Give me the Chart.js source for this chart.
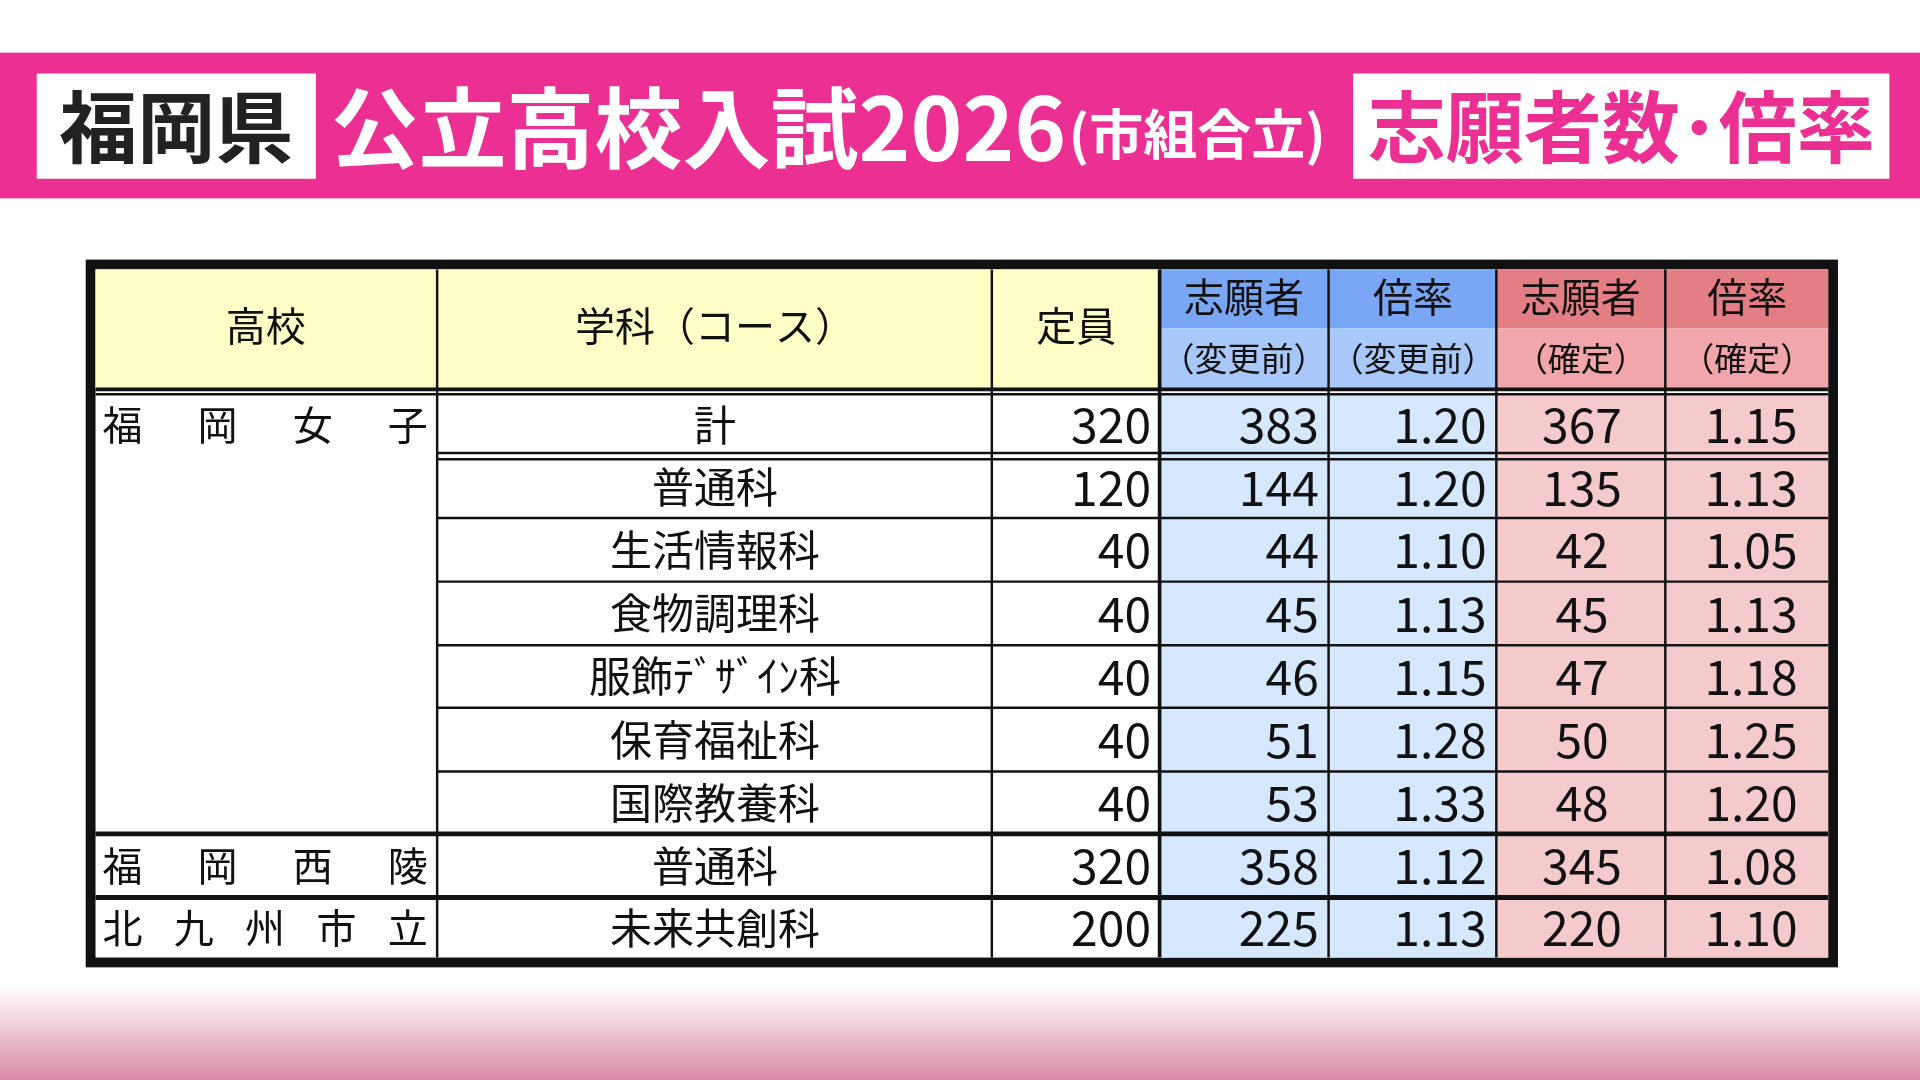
<!DOCTYPE html>
<html><head><meta charset="utf-8">
<script src="https://cdn.jsdelivr.net/npm/chart.js@4"></script>
<style>body{margin:0;background:#fff}canvas{display:block}</style>
</head><body>
<canvas id="c" width="1920" height="1080"></canvas>
<script>
const schools = ["福岡女子", "福岡西陵", "北九州市立"];
const schoolRows = [[0, 6], [7, 7], [8, 8]];
const courses = ["計", "普通科", "生活情報科", "食物調理科", "服飾ﾃﾞｻﾞｲﾝ科", "保育福祉科", "国際教養科", "普通科", "未来共創科"];
const capacity = [320, 120, 40, 40, 40, 40, 40, 320, 200];
const applicantsBefore = [383, 144, 44, 45, 46, 51, 53, 358, 225];
const ratioBefore = ["1.20", "1.20", "1.10", "1.13", "1.15", "1.28", "1.33", "1.12", "1.13"];
const applicantsFinal = [367, 135, 42, 45, 47, 50, 48, 345, 220];
const ratioFinal = ["1.15", "1.13", "1.05", "1.13", "1.18", "1.25", "1.20", "1.08", "1.10"];

const FONT = '"Noto Sans CJK JP", "Noto Sans", sans-serif';
const colX = [78, 357, 810, 947, 1085, 1222, 1360, 1493];
const rowY = [321, 373, 423, 475, 527, 578, 630, 681, 733, 783];

const tablePlugin = {
  id: "table",
  afterDraw(chart) {
    const c = chart.ctx, sx = chart.scales.x, sy = chart.scales.y;
    const X = v => sx.getPixelForValue(v), Y = v => sy.getPixelForValue(v);
    const k = X(1) - X(0);
    const font = (s, w) => `${w || ""} ${Math.round(s * k)}px ${FONT}`;
    const rect = (x0, y0, x1, y1, col) => { c.fillStyle = col; c.fillRect(X(x0), Y(y0), X(x1) - X(x0), Y(y1) - Y(y0)); };
    const line = (x0, y0, x1, y1, w) => { c.strokeStyle = "#111"; c.lineWidth = w * k; c.beginPath(); c.moveTo(X(x0), Y(y0)); c.lineTo(X(x1), Y(y1)); c.stroke(); };
    const text = (t, x, y, size, align, col, w) => { c.font = font(size, w); c.fillStyle = col || "#111"; c.textAlign = align; c.textBaseline = "middle"; c.fillText(t, X(x), Y(y)); };

    // banner
    rect(0, 43, 1568, 162, "#EC2F92");
    rect(30, 60, 258, 146, "#fff");
    text("福岡県", 144, 104, 64, "center", "#222", "bold");
    c.font = font(72, "bold"); c.fillStyle = "#fff"; c.textAlign = "left"; c.textBaseline = "middle";
    c.fillText("公立高校入試2026", X(270), Y(104));
    const w1 = c.measureText("公立高校入試2026").width / k;
    text("(市組合立)", 272 + w1, 110, 44, "left", "#fff", "bold");
    rect(1105, 60, 1543, 146, "#fff");
    text("志願者数･倍率", 1324, 104, 64, "center", "#EC2F92", "bold");

    // bottom gradient
    const g = c.createLinearGradient(0, Y(805), 0, Y(882));
    g.addColorStop(0, "rgba(255,255,255,1)"); g.addColorStop(1, "#D98AA8");
    c.fillStyle = g; c.fillRect(X(0), Y(805), X(1568) - X(0), Y(882) - Y(805));

    // table background
    rect(70, 212, 1501, 790, "#111");
    rect(78, 220, 1493, 782, "#fff");
    rect(78, 220, 947, 317, "#FFFFC8");
    rect(947, 220, 1222, 268, "#7AA6F6"); rect(947, 268, 1222, 317, "#A9C8FA");
    rect(1222, 220, 1493, 268, "#E47E85"); rect(1222, 268, 1493, 317, "#F0A6AA");
    rect(947, 321, 1222, 782, "#D5E8FF");
    rect(1222, 321, 1493, 782, "#F5CACD");

    // header text
    text("高校", 217, 266, 33, "center");
    text("学科（コース）", 584, 266, 33, "center");
    text("定員", 879, 266, 33, "center");
    [[1016, "志願者", "（変更前）"], [1154, "倍率", "（変更前）"], [1291, "志願者", "（確定）"], [1427, "倍率", "（確定）"]].forEach(([x, a, b]) => {
      text(a, x, 242, 33, "center");
      text(b, x, 293, 27, "center");
    });

    // rows
    courses.forEach((name, i) => {
      const yc = (rowY[i] + rowY[i + 1]) / 2;
      text(name, 584, yc, 34, "center");
      text(String(capacity[i]), 940, yc, 39, "right");
      text(String(applicantsBefore[i]), 1077, yc, 39, "right");
      text(ratioBefore[i], 1214, yc, 39, "right");
      text(String(applicantsFinal[i]), 1292, yc, 39, "center");
      text(ratioFinal[i], 1430, yc, 39, "center");
    });
    schools.forEach((s, i) => {
      const r = schoolRows[i][0];
      const yc = (rowY[r] + rowY[r + 1]) / 2;
      const chars = [...s], x0 = 100, x1 = 333;
      chars.forEach((ch, j) => text(ch, x0 + (x1 - x0) * j / (chars.length - 1), yc, 33, "center"));
    });

    // grid lines
    line(78, 318, 1493, 318, 3); line(78, 322, 1493, 322, 2);
    for (let i = 1; i < rowY.length - 1; i++) {
      const y = rowY[i];
      const startsSchool = schoolRows.some(r => r[0] === i);
      const x0 = startsSchool ? 78 : 357;
      if (i === 1) { line(357, 370, 1493, 370, 2); line(357, 375, 1493, 375, 2); }
      else line(x0, y, 1493, y, startsSchool ? 4 : 2);
    }
    colX.slice(1, -1).forEach((x, j) => line(x, 220, x, 782, j === 2 ? 3 : 2));
  }
};

new Chart(document.getElementById("c"), {
  type: "scatter",
  data: { datasets: [{ data: [], pointRadius: 0 }] },
  options: {
    responsive: false,
    animation: false,
    devicePixelRatio: 1,
    layout: { padding: 0 },
    plugins: { legend: { display: false }, tooltip: { enabled: false } },
    scales: {
      x: { type: "linear", min: 0, max: 1568, display: false },
      y: { type: "linear", min: 0, max: 882, reverse: true, display: false }
    }
  },
  plugins: [tablePlugin]
});
</script>
</body></html>
